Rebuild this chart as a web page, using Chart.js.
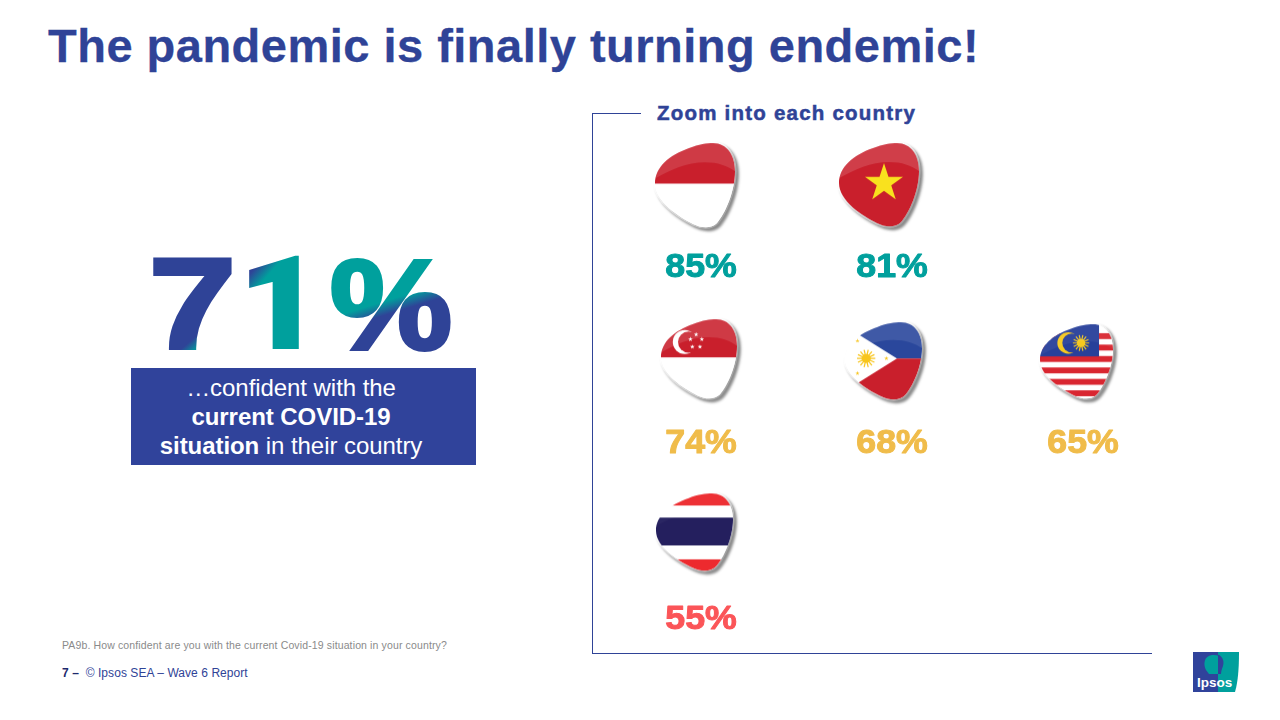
<!DOCTYPE html>
<html><head><meta charset="utf-8">
<script src="https://cdn.jsdelivr.net/npm/chart.js@4"></script>
<style>
html,body{margin:0;padding:0;background:#fff;width:1280px;height:720px;overflow:hidden}
body{position:relative;font-family:"Liberation Sans",Arial,sans-serif}
.t{position:absolute;white-space:nowrap}
#title{left:48px;top:18px;font-size:47px;line-height:56px;font-weight:bold;color:#2F4397;letter-spacing:.49px;-webkit-text-stroke:.3px #2F4397}
#zoom{left:657px;top:100px;font-size:20.5px;line-height:26px;font-weight:bold;color:#2F4397;letter-spacing:1.22px;-webkit-text-stroke:.5px #2F4397}
#box{position:absolute;left:131px;top:368px;width:345px;height:97px;background:#30439B}
#boxtxt{position:absolute;left:131px;top:373px;width:320px;text-align:center;color:#fff;font-size:24px;line-height:29px;letter-spacing:-.06px}
#q{left:62px;top:639px;font-size:10.5px;line-height:13px;color:#8a8a8a;letter-spacing:.13px}
#foot{left:62px;top:666px;font-size:12px;line-height:14px;color:#2F4397;letter-spacing:.06px}
#foot b{color:#1d2a6d}
.ln{position:absolute;background:#2F4397}
#c{position:absolute;left:0;top:0}
svg{position:absolute;left:0;top:0}
</style></head><body>

<svg width="1280" height="720" xmlns="http://www.w3.org/2000/svg">
<defs>
<linearGradient id="g7" gradientUnits="userSpaceOnUse" x1="176" y1="326" x2="197" y2="350"><stop offset=".65" stop-color="#2F4397"/><stop offset="1" stop-color="#00A09D"/></linearGradient>
<linearGradient id="g1" gradientUnits="userSpaceOnUse" x1="246" y1="278" x2="262" y2="292"><stop offset="0" stop-color="#2F4397"/><stop offset=".7" stop-color="#00A09D"/></linearGradient>
<linearGradient id="gp" gradientUnits="userSpaceOnUse" x1="398" y1="297" x2="402" y2="310"><stop offset="0" stop-color="#00A09D"/><stop offset="1" stop-color="#2F4397"/></linearGradient>
</defs>
<g font-size="128" stroke-linejoin="miter">
<text x="149" y="347.5" font-family="Liberation Sans" font-weight="bold" textLength="87" lengthAdjust="spacingAndGlyphs" fill="url(#g7)" stroke="url(#g7)" stroke-width="4">7</text>
<text x="238.5" y="348" font-family="Roboto" font-weight="900" font-size="128" textLength="84" lengthAdjust="spacingAndGlyphs" fill="url(#g1)" stroke="url(#g1)" stroke-width="2">1</text>
<text x="330" y="349" font-family="Liberation Sans" font-weight="bold" textLength="122" lengthAdjust="spacingAndGlyphs" fill="url(#gp)" stroke="url(#gp)" stroke-width="4">%</text>
</g>
<path d="M1193 652H1218V692H1193Z" fill="#30439B"/>
<path d="M1218 652H1239C1239 668 1238 682 1235 692H1218Z" fill="#00A09D"/>
<path d="M1206 670C1203 664 1204 656 1212 655C1221 654 1225 660 1223 666C1222 669 1221 671 1221 674H1209Z" fill="#00A09D"/>
<path d="M1218 654.7C1221 655 1225 660 1223 666C1222 669 1221 671 1221 674H1218Z" fill="#30439B"/>
<text x="1197" y="687" font-family="Liberation Sans" font-weight="bold" font-size="13.5" fill="#fff">Ipsos</text>
</svg>

<div id="title" class="t">The pandemic is finally turning endemic!</div>
<div id="zoom" class="t">Zoom into each country</div>
<div id="box"></div>
<div id="boxtxt">…confident with the<br><b>current COVID-19</b><br><b>situation</b> in their country</div>
<div id="q" class="t">PA9b. How confident are you with the current Covid-19 situation in your country?</div>
<div id="foot" class="t"><b>7 –</b>&nbsp; © Ipsos SEA – Wave 6 Report</div>
<div class="ln" style="left:593px;top:113px;width:48px;height:1px"></div>
<div class="ln" style="left:592px;top:113px;width:1px;height:541px"></div>
<div class="ln" style="left:592px;top:653px;width:560px;height:1px"></div>

<canvas id="c" width="1280" height="720"></canvas>

<script>
// ---- data ----
const countries = ['Indonesia','Vietnam','Singapore','Philippines','Malaysia','Thailand'];
const confidence = [85,81,74,68,65,55];
const columnLabels = ['First','Second','Third'];
const rowLabels = ['High','Medium','Low'];
const countryColumn = ['First','Second','First','Second','Third','First'];
const countryRow = ['High','High','Medium','Medium','Medium','Low'];

// ---- styles ----
const tierColor = {High:'#00A09D',Medium:'#F0BC4A',Low:'#FB5558'};
const flagBox = { // offset from the value label and size of each flag tile
  Indonesia:[-46,-121,80,85], Vietnam:[-53,-121,80,84], Singapore:[-40,-121,76,80],
  Philippines:[-47,-118,77,78], Malaysia:[-43,-116,73,75], Thailand:[-45,-123,77,78]
};
const flagGloss = {Indonesia:.12,Vietnam:.14,Singapore:.12,Philippines:.1,Malaysia:.05,Thailand:.03};

function pick(g){
  g.beginPath();g.moveTo(0,40);
  g.bezierCurveTo(0,24,14,12,34,5);g.bezierCurveTo(44,1,52,0,58,0);
  g.bezierCurveTo(72,0,80,12,80,28);g.bezierCurveTo(80,48,70,70,62,79);
  g.bezierCurveTo(56,85,46,84,38,80);g.bezierCurveTo(24,73,0,58,0,40);g.closePath();
}
function star(g,x,y,R,c,rot){
  g.fillStyle=c;g.beginPath();
  for(let i=0;i<10;i++){const r=i%2?R*.382:R,a=-Math.PI/2+i*Math.PI/5+(rot||0);
    g.lineTo(x+r*Math.cos(a),y+r*Math.sin(a));}
  g.closePath();g.fill();
}
function sun(g,x,y,R,c){
  g.strokeStyle=c;g.lineWidth=1.3;
  for(let i=0;i<14;i++){const a=i*Math.PI/7;g.beginPath();g.moveTo(x,y);g.lineTo(x+R*Math.cos(a),y+R*Math.sin(a));g.stroke();}
  g.fillStyle=c;g.beginPath();g.arc(x,y,R*.5,0,7);g.fill();
}
function crescent(g,x,y,R,cut,bg,c){
  g.fillStyle=c;g.beginPath();g.arc(x,y,R,0,7);g.fill();
  g.fillStyle=bg;g.beginPath();g.arc(x+cut,y,R*.88,0,7);g.fill();
}
const RED='#C91F2C';
const painters={
  Indonesia(g){g.fillStyle='#fff';g.fillRect(-5,-5,90,95);g.fillStyle=RED;g.fillRect(-5,-5,90,45);},
  Vietnam(g){g.fillStyle=RED;g.fillRect(-5,-5,90,95);star(g,45,40,20,'#F9E11E');},
  Singapore(g){g.fillStyle='#fff';g.fillRect(-5,-5,90,95);g.fillStyle=RED;g.fillRect(-5,-5,90,45);
    crescent(g,25,24,12.6,4,RED,'#fff');
    [[37,16],[43,21],[41,29],[33,29],[31,21]].forEach(p=>star(g,p[0],p[1],2.6,'#fff'));},
  Philippines(g){g.fillStyle='#fff';g.fillRect(-5,-5,90,95);
    g.fillStyle='#2A479C';g.beginPath();g.moveTo(54,39);g.lineTo(0,4);g.lineTo(0,-10);g.lineTo(90,-10);g.lineTo(90,39);g.fill();
    g.fillStyle=RED;g.beginPath();g.moveTo(54,39);g.lineTo(0,74);g.lineTo(0,100);g.lineTo(90,100);g.lineTo(90,39);g.fill();
    sun(g,22,39,9.5,'#F8C51C');
    [[13,20],[43,39],[13,55]].forEach(p=>star(g,p[0],p[1],2.4,'#F8C51C'));},
  Malaysia(g){g.fillStyle='#fff';g.fillRect(-5,-5,90,95);g.fillStyle='#D92630';
    [10,22.8,35.6,48.4,61.2,74].forEach(y=>g.fillRect(-5,y,90,6.6));
    g.fillStyle='#27409A';g.fillRect(-5,-5,69.7,41);
    crescent(g,31,21,12,4,'#27409A','#F6C91E');sun(g,45,21,9,'#F6C91E');},
  Thailand(g){g.fillStyle='#fff';g.fillRect(-5,-5,90,95);g.fillStyle='#ED2A2E';g.fillRect(-5,-5,90,18);g.fillRect(-5,71,90,20);
    g.fillStyle='#241F5E';g.fillRect(-5,26,90,30);}
};
function flagCanvas(name){
  const [dx,dy,w,h]=flagBox[name];
  const cv=document.createElement('canvas');cv.width=240;cv.height=300;
  const g=cv.getContext('2d');
  g.translate(120+dx,150+dy);g.scale(w/80,h/84);
  g.save();g.shadowColor='rgba(0,0,0,.38)';g.shadowBlur=3;g.shadowOffsetX=2.5;g.shadowOffsetY=2.5;
  pick(g);g.fillStyle='#fff';g.strokeStyle='#fff';g.lineWidth=3;g.stroke();g.fill();g.restore();
  g.save();pick(g);g.clip();painters[name](g);
  g.fillStyle='rgba(255,255,255,'+flagGloss[name]+')';g.beginPath();g.moveTo(-5,-5);g.lineTo(-5,38);
  g.bezierCurveTo(12,28,30,19,50,19);g.bezierCurveTo(66,19,76,24,85,32);g.lineTo(85,-5);g.closePath();g.fill();
  g.restore();
  return cv;
}

const valueLabels={id:'valueLabels',afterDatasetsDraw(chart){
  const g=chart.ctx,m=chart.getDatasetMeta(0);
  g.save();g.font='bold 34px "Liberation Sans"';g.textAlign='center';g.textBaseline='alphabetic';g.lineJoin='round';
  m.data.forEach((p,i)=>{const c=tierColor[countryRow[i]];
    g.save();g.translate(p.x,p.y+12.5);g.scale(1.05,1);g.fillStyle=c;g.strokeStyle=c;g.lineWidth=1;
    const s=confidence[i]+'%';g.fillText(s,0,0);g.strokeText(s,0,0);g.restore();});
  g.restore();
}};

new Chart(document.getElementById('c'),{
  type:'scatter',
  data:{datasets:[{
    label:'Confident with the current COVID-19 situation',
    data:countries.map((n,i)=>({x:countryColumn[i],y:countryRow[i],v:confidence[i]})),
    pointStyle:countries.map(flagCanvas),
    clip:false,showLine:false
  }]},
  options:{
    responsive:false,animation:false,devicePixelRatio:1,
    layout:{padding:{left:605.5,right:101.5,top:176,bottom:15.5}},
    plugins:{legend:{display:false},tooltip:{enabled:false}},
    scales:{
      x:{type:'category',labels:columnLabels,offset:true,display:false},
      y:{type:'category',labels:rowLabels,offset:true,display:false}
    }
  },
  plugins:[valueLabels]
});
</script>
</body></html>
